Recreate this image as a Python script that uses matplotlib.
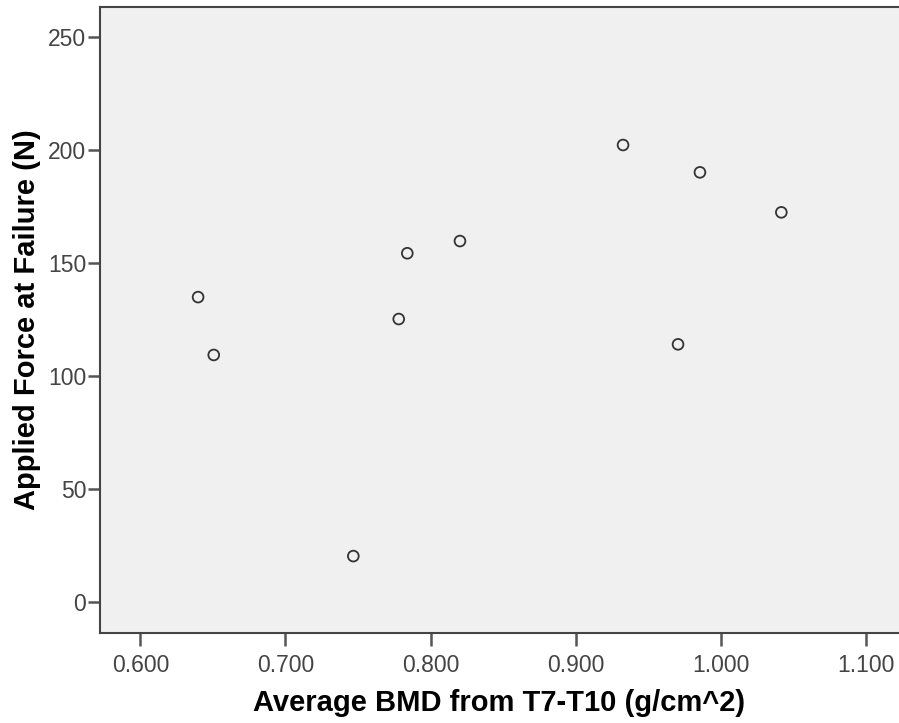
import matplotlib.pyplot as plt

# data
bmd = [0.6398, 0.6506, 0.7468, 0.7781, 0.7840, 0.8203, 0.9327, 0.9706, 0.9857, 1.0418]
force = [134.8, 109.2, 20.2, 125.1, 154.2, 159.6, 202.1, 113.9, 190.0, 172.3]

x_ticks = [0.6, 0.7, 0.8, 0.9, 1.0, 1.1]
x_labels = ['0.600', '0.700', '0.800', '0.900', '1.000', '1.100']
y_ticks = [0, 50, 100, 150, 200, 250]

plt.rcParams['font.family'] = ['Liberation Sans', 'DejaVu Sans']

fig = plt.figure(figsize=(8.99, 7.23), dpi=100)
ax = fig.add_axes([100 / 899, (723 - 632.7) / 723, 799 / 899, (632.7 - 6.7) / 723])
ax.set_facecolor('#f0f0f0')

ax.scatter(bmd, force, s=60, facecolors='none', edgecolors='#333333', linewidths=1.3, zorder=3)

ax.set_xlim(0.5722, 1.1229)
ax.set_ylim(-13.7, 263.3)
ax.set_xticks(x_ticks)
ax.set_xticklabels(x_labels)
ax.set_yticks(y_ticks)

for side in ['left', 'bottom', 'top']:
    ax.spines[side].set_color('#444444')
    ax.spines[side].set_linewidth(1.5)
ax.spines['right'].set_visible(False)

ax.tick_params(axis='both', direction='out', length=9, width=1.8, color='#555555',
               labelsize=16.5, labelcolor='#444444')
ax.tick_params(axis='x', pad=6)
ax.tick_params(axis='y', pad=1)

ax.set_xlabel('Average BMD from T7-T10 (g/cm^2)', fontsize=21, fontweight='bold', labelpad=9)
ax.set_ylabel('Applied Force at Failure (N)', fontsize=21, fontweight='bold', labelpad=5)

fig.savefig('out.png', dpi=100, facecolor='white')
